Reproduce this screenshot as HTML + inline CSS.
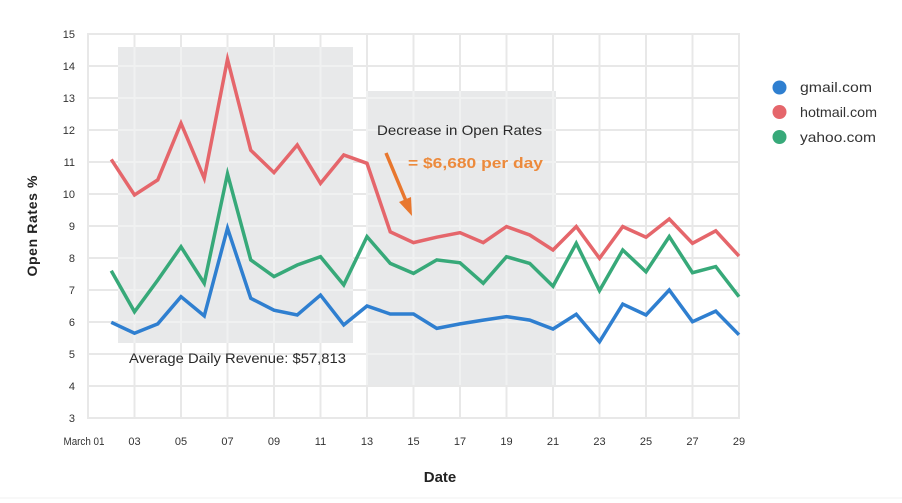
<!DOCTYPE html>
<html>
<head>
<meta charset="utf-8">
<style>
  html,body{margin:0;padding:0;background:#fff;}
  svg{display:block;}
  text{font-family:"Liberation Sans",sans-serif;}
</style>
</head>
<body>
<svg width="902" height="503" viewBox="0 0 902 503" xmlns="http://www.w3.org/2000/svg">
  <rect x="0" y="0" width="902" height="503" fill="#ffffff"/>
  <defs>
    <clipPath id="boxes">
      <rect x="118" y="47" width="235" height="296"/>
      <rect x="366" y="91" width="190" height="294"/>
    </clipPath>
    <g id="grid">
      <line x1="87" y1="34" x2="740" y2="34"/>
      <line x1="87" y1="66" x2="740" y2="66"/>
      <line x1="87" y1="98" x2="740" y2="98"/>
      <line x1="87" y1="130" x2="740" y2="130"/>
      <line x1="87" y1="162" x2="740" y2="162"/>
      <line x1="87" y1="194" x2="740" y2="194"/>
      <line x1="87" y1="226" x2="740" y2="226"/>
      <line x1="87" y1="258" x2="740" y2="258"/>
      <line x1="87" y1="290" x2="740" y2="290"/>
      <line x1="87" y1="322" x2="740" y2="322"/>
      <line x1="87" y1="354" x2="740" y2="354"/>
      <line x1="87" y1="386" x2="740" y2="386"/>
      <line x1="87" y1="418" x2="740" y2="418"/>
      <line x1="88" y1="34" x2="88" y2="418"/>
      <line x1="134.5" y1="34" x2="134.5" y2="418"/>
      <line x1="181" y1="34" x2="181" y2="418"/>
      <line x1="227.5" y1="34" x2="227.5" y2="418"/>
      <line x1="274" y1="34" x2="274" y2="418"/>
      <line x1="320.5" y1="34" x2="320.5" y2="418"/>
      <line x1="367" y1="34" x2="367" y2="418"/>
      <line x1="413.5" y1="34" x2="413.5" y2="418"/>
      <line x1="460" y1="34" x2="460" y2="418"/>
      <line x1="506.5" y1="34" x2="506.5" y2="418"/>
      <line x1="553" y1="34" x2="553" y2="418"/>
      <line x1="599.5" y1="34" x2="599.5" y2="418"/>
      <line x1="646" y1="34" x2="646" y2="418"/>
      <line x1="692.5" y1="34" x2="692.5" y2="418"/>
      <line x1="739" y1="34" x2="739" y2="418"/>
    </g>
  </defs>

  <!-- gridlines on white -->
  <g stroke="#e8e8e8" stroke-width="2"><use href="#grid"/></g>

  <!-- shaded boxes -->
  <rect x="118" y="47" width="235" height="296" fill="#e8e9ea"/>
  <rect x="366" y="91" width="190" height="294" fill="#e8e9ea"/>
  <g stroke="#f0f1f1" stroke-width="2" clip-path="url(#boxes)"><use href="#grid"/></g>

  <!-- y tick labels -->
  <g font-size="11" fill="#333" text-anchor="end">
    <text x="75" y="38">15</text>
    <text x="75" y="70">14</text>
    <text x="75" y="102">13</text>
    <text x="75" y="134">12</text>
    <text x="75" y="166">11</text>
    <text x="75" y="198">10</text>
    <text x="75" y="230">9</text>
    <text x="75" y="262">8</text>
    <text x="75" y="294">7</text>
    <text x="75" y="326">6</text>
    <text x="75" y="358">5</text>
    <text x="75" y="390">4</text>
    <text x="75" y="422">3</text>
  </g>

  <!-- x tick labels -->
  <g font-size="11" fill="#333" text-anchor="middle">
    <text x="84" y="445" textLength="41" lengthAdjust="spacingAndGlyphs">March 01</text>
    <text x="134.5" y="445">03</text>
    <text x="181" y="445">05</text>
    <text x="227.5" y="445">07</text>
    <text x="274" y="445">09</text>
    <text x="320.5" y="445">11</text>
    <text x="367" y="445">13</text>
    <text x="413.5" y="445">15</text>
    <text x="460" y="445">17</text>
    <text x="506.5" y="445">19</text>
    <text x="553" y="445">21</text>
    <text x="599.5" y="445">23</text>
    <text x="646" y="445">25</text>
    <text x="692.5" y="445">27</text>
    <text x="739" y="445">29</text>
  </g>

  <!-- axis titles -->
  <text x="440" y="482" font-size="15" font-weight="bold" fill="#222" text-anchor="middle">Date</text>
  <text transform="translate(37,226) rotate(-90)" font-size="14" font-weight="bold" fill="#222" text-anchor="middle" textLength="101" lengthAdjust="spacing">Open Rates  %</text>

  <!-- series -->
  <g fill="none" stroke-width="3.5" stroke-linejoin="miter" stroke-miterlimit="10">
    <polyline stroke="#e5666b" points="111.25,159.4 134.5,195.0 157.75,179.9 181,123.3 204.25,178.3 227.5,59.3 250.75,150.2 274,172.6 297.25,145.0 320.5,183.4 343.75,155.0 367,163.3 390.25,231.8 413.5,242.6 436.75,237.2 460,232.7 483.25,242.6 506.5,226.6 529.75,235.0 553,250 576.25,226.6 599.5,258.3 622.75,226.6 646,237.2 669.25,219.0 692.5,243.3 715.75,230.8 739,256.1"/>
    <polyline stroke="#37a979" points="111.25,270.8 134.5,311.8 157.75,280.1 181,246.8 204.25,283.3 227.5,173.8 250.75,259.9 274,276.6 297.25,265.0 320.5,256.7 343.75,284.9 367,236.6 390.25,263.4 413.5,273.4 436.75,259.9 460,262.8 483.25,283.3 506.5,256.7 529.75,263.4 553,286.2 576.25,243.3 599.5,290.6 622.75,250 646,271.8 669.25,236.6 692.5,272.7 715.75,266.6 739,296.7"/>
    <polyline stroke="#2f7fd0" points="111.25,322.3 134.5,333.2 157.75,323.9 181,296.7 204.25,315.9 227.5,228.2 250.75,298.3 274,310.2 297.25,315.0 320.5,295.1 343.75,324.9 367,306 390.25,314 413.5,314 436.75,328.4 460,323.9 483.25,320.1 506.5,316.6 529.75,320.1 553,329.0 576.25,314.3 599.5,341.8 622.75,304.1 646,315.0 669.25,290 692.5,321.7 715.75,311.1 739,334.8"/>
  </g>

  <!-- annotations -->
  <text x="129" y="363" font-size="14" fill="#2a2a2a" textLength="217" lengthAdjust="spacingAndGlyphs">Average Daily Revenue: $57,813</text>
  <text x="377" y="135" font-size="14" fill="#2a2a2a" textLength="165" lengthAdjust="spacingAndGlyphs">Decrease in Open Rates</text>
  <text x="408" y="168" font-size="15" font-weight="bold" fill="#ec8a3c" textLength="135" lengthAdjust="spacingAndGlyphs">= $6,680 per day</text>
  <line x1="386" y1="153" x2="406" y2="201" stroke="#e8772e" stroke-width="3.5"/>
  <polygon points="412,216 399,202 411,197" fill="#e8772e"/>

  <!-- legend -->
  <circle cx="779.5" cy="87.5" r="7" fill="#2f7fd0"/>
  <circle cx="779.5" cy="112" r="7" fill="#e5666b"/>
  <circle cx="779.5" cy="137" r="7" fill="#37a979"/>
  <g font-size="14" fill="#333">
    <text x="800" y="92" textLength="72" lengthAdjust="spacingAndGlyphs">gmail.com</text>
    <text x="800" y="117" textLength="77" lengthAdjust="spacingAndGlyphs">hotmail.com</text>
    <text x="800" y="142" textLength="76" lengthAdjust="spacingAndGlyphs">yahoo.com</text>
  </g>

  <!-- faint bottom border -->
  <line x1="0" y1="498" x2="902" y2="498" stroke="#f2f2f2" stroke-width="1"/>
</svg>
</body>
</html>
